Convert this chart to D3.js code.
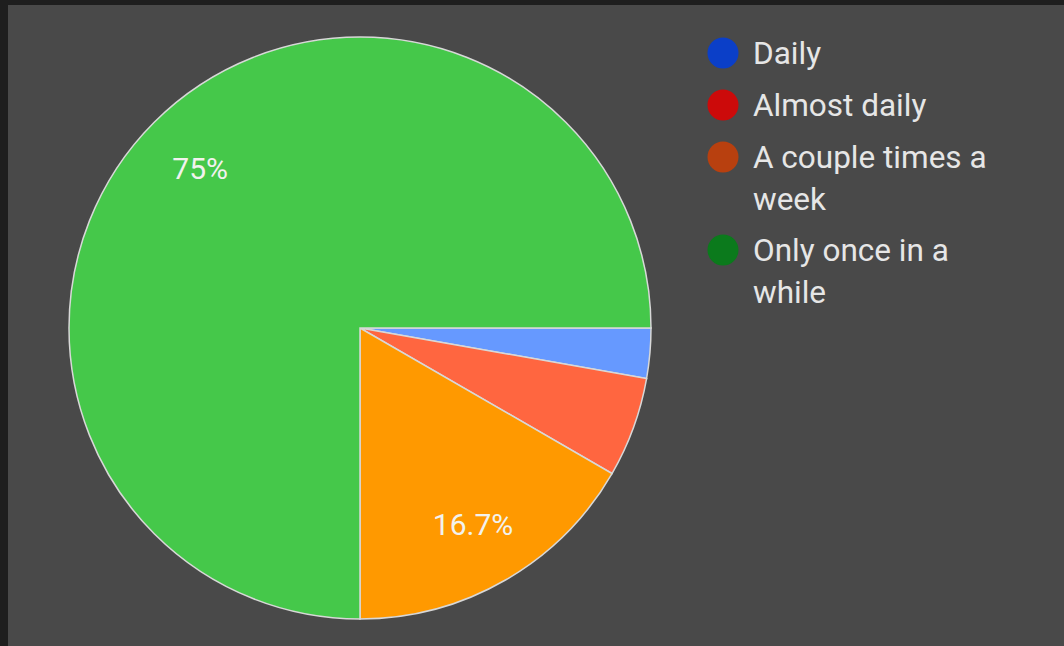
<!DOCTYPE html>
<html><head><meta charset="utf-8">
<script src="https://cdn.jsdelivr.net/npm/d3@7"></script>
<style>html,body{margin:0;padding:0;background:#1e1e1e;}svg{display:block;}</style>
</head><body>
<svg id="c" width="1064" height="646"></svg>
<script>
const categories = ["Daily", "Almost daily", "A couple times a week", "Only once in a while"];
const values = [1, 2, 6, 27];
const sliceColors = ["#6699ff", "#ff6640", "#ff9900", "#45c84a"];
const legendColors = ["#0b3fc8", "#cc0a0a", "#b8400f", "#0b7a1c"];
const legendLines = [["Daily"], ["Almost daily"], ["A couple times a", "week"], ["Only once in a", "while"]];

const svg = d3.select("#c");
svg.append("rect").attr("x", 8).attr("y", 5).attr("width", 1056).attr("height", 641).attr("fill", "#494949");

const cx = 360, cy = 328, R = 291;
const total = d3.sum(values);
const pie = d3.pie().sort(null).value(d => d).startAngle(Math.PI / 2).endAngle(Math.PI / 2 + 2 * Math.PI);
const arcs = pie(values);
const arc = d3.arc().innerRadius(0).outerRadius(R);
const labelArc = d3.arc().innerRadius(226).outerRadius(226);
const g = svg.append("g").attr("transform", `translate(${cx},${cy})`);
g.selectAll("path").data(arcs).join("path")
  .attr("d", arc).attr("fill", (d, i) => sliceColors[i])
  .attr("stroke", "#d8d8d8").attr("stroke-width", 1.5);
g.selectAll("text").data(arcs.filter(d => d.data / total > 0.1)).join("text")
  .attr("transform", d => `translate(${labelArc.centroid(d)})`)
  .attr("text-anchor", "middle").attr("dy", "0.36em")
  .attr("font-family", "Roboto, sans-serif").attr("font-size", 30)
  .attr("fill", "#f2f2ee")
  .text(d => { const p = d.data / total * 100; return (Math.round(p * 10) / 10) + "%"; });

const ly = [53, 105, 157, 250];
const lg = svg.append("g");
categories.forEach((c, i) => {
  lg.append("circle").attr("cx", 723).attr("cy", ly[i]).attr("r", 15.5).attr("fill", legendColors[i]);
  const t = lg.append("text").attr("x", 753).attr("y", ly[i])
    .attr("font-family", "Roboto, sans-serif").attr("font-size", 31.5).attr("fill", "#e6e6e6");
  legendLines[i].forEach((l, j) => {
    t.append("tspan").attr("x", 753).attr("dy", j === 0 ? "0.36em" : 42).text(l);
  });
});
</script>
</body></html>
